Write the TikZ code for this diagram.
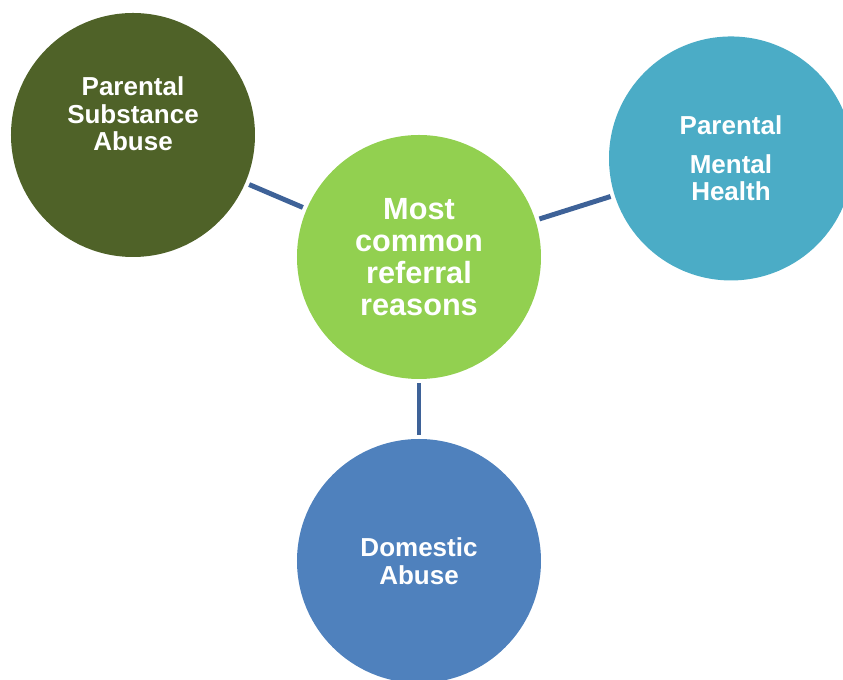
\documentclass[tikz,border=0pt]{standalone}
\usepackage{fontspec}
\setmainfont{Liberation Sans}
\usetikzlibrary{
  positioning, % for relative positioning of the circles
}
\definecolor{olivedark}{HTML}{4F6228}
\definecolor{limegreen}{HTML}{92D050}
\definecolor{tealblue}{HTML}{4BACC6}
\definecolor{steelblue}{HTML}{4F81BD}
\definecolor{connblue}{HTML}{3E6298}
\tikzset{
  bubble/.style={ % style for each circle
    circle, % drawn as a plain filled circle
    inner sep=0pt, % no padding between the text and the circle shape
    minimum size=183pt, % every circle the same size regardless of the text
    text=white, % white text on the coloured fill
    align=center, % centre the lines of text
    font=\bfseries\fontsize{19.5}{20.6}\selectfont,
  },
  hub/.style={ % style for the central circle
    bubble, % inherit the bubble style
    fill=limegreen,
    font=\bfseries\fontsize{23}{24}\selectfont,
  },
  conn/.style={ % style for the connections
    line width=3.7pt, % thick flat line
    draw=connblue,
    shorten <=3pt, shorten >=3pt, % small gap at the circles
  },
}
\begin{document}
\begin{tikzpicture}[on grid]
	\useasboundingbox (-314.25pt,-317.25pt) rectangle (318pt,192.75pt);
	
	\node[hub] (hub) {Most\\common\\referral\\reasons};
	
	\node[bubble, fill=olivedark,
	      label={[text=white, align=center, yshift=15.75pt,
	              font=\bfseries\fontsize{19.5}{20.6}\selectfont]center:Parental\\Substance\\Abuse}]
	      (sub) [above left=91.5pt and 214.5pt of hub] {};
	
	\node[bubble, fill=tealblue] (ment) [above right=73.9pt and 234pt of hub] {Parental\\[8pt]Mental\\Health};
	
	\node[bubble, fill=steelblue] (dom) [below=228pt of hub] {Domestic\\Abuse};
	
	\path[conn] (hub) edge (sub)
	                  edge (ment)
	                  edge (dom);
\end{tikzpicture}
\end{document}
